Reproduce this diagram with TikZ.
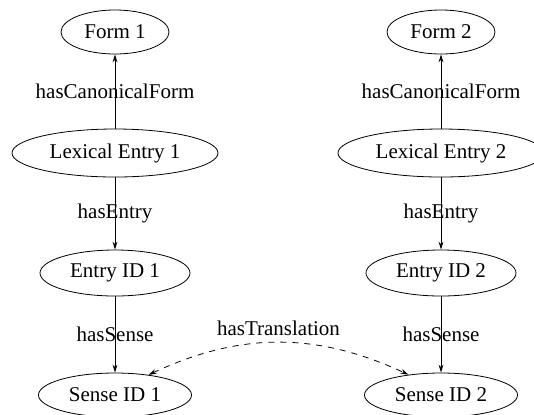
\documentclass[tikz,border=0pt]{standalone}
\usepackage{fontspec}
\setmainfont{Liberation Serif}
\usetikzlibrary{positioning, arrows.meta, shapes.geometric}

\begin{document}
\begin{tikzpicture}[x=0.5pt, y=-0.5pt,
    concept/.style={draw, ellipse, inner sep=0pt, font=\fontsize{10.5}{12}\selectfont},
    rel/.style={-{Stealth[length=4pt, width=2.4pt]}},
    rellabel/.style={font=\fontsize{10.5}{12}\selectfont}]
    \useasboundingbox (0,0) rectangle (534,414);

    % draw the two columns of nodes
    \foreach \c/\x in {1/115, 2/441}
    {
        \node[concept, minimum width=54pt, minimum height=22pt] (form\c) at (\x, 32) {Form \c};
        \node[concept, minimum width=103pt, minimum height=24pt] (lex\c) at (\x, 153) {Lexical Entry \c};
        \node[concept, minimum width=75pt, minimum height=23pt] (entry\c) at (\x, 273) {Entry ID \c};
        \node[concept, minimum width=76.5pt, minimum height=22pt] (sense\c) at (\x, 395) {Sense ID \c};
    }

    % draw the links inside each column
    \foreach \c in {1,2}
    {
        \draw[rel] (lex\c) -- node[rellabel] {hasCanonicalForm} (form\c);
        \draw[rel] (lex\c) -- node[rellabel] {hasEntry} (entry\c);
        \draw[rel] (entry\c) -- node[rellabel] {hasSense} (sense\c);
    }

    % translation link
    \draw[{Stealth[length=4pt, width=2.4pt]}-{Stealth[length=4pt, width=2.4pt]}, dashed]
        (sense1.31) to[bend left=25] node[above, rellabel] {hasTranslation} (sense2.148);
\end{tikzpicture}
\end{document}
